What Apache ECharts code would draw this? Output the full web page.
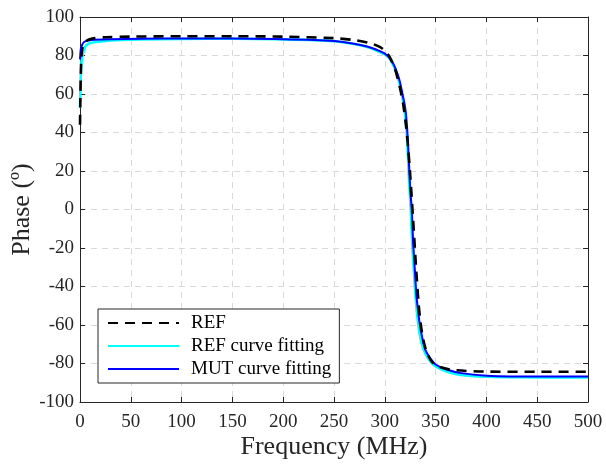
<!DOCTYPE html>
<html>
<head>
<meta charset="utf-8">
<script src="https://cdn.jsdelivr.net/npm/echarts@6/dist/echarts.min.js"></script>
<style>
  html, body { margin: 0; padding: 0; background: #fff; }
  #chart { width: 606px; height: 464px; }
</style>
</head>
<body>
<div id="chart"></div>
<script>
// ── Data ──────────────────────────────────────────────────
const refFreq = [0, 0.3, 0.8, 1.5, 3, 6, 12, 25, 50, 100, 150, 200, 250, 270, 285, 295, 300, 305, 310, 315, 318, 321, 323, 325, 327, 329, 331, 333, 335, 338, 342, 347, 355, 370, 400, 450, 500];
const refPhase = [44, 55, 70, 80, 85.5, 87.5, 88.8, 89.5, 89.8, 90, 90, 89.8, 89, 88, 86.5, 84.5, 82.5, 79, 73, 63, 55, 43, 32, 18, 2, -15, -32, -47, -58, -68, -75, -79.5, -82, -83.5, -84.2, -84.3, -84.3];

const refFitFreq = [0, 0.5, 1, 2, 4, 6, 10, 16, 25, 35, 60, 100, 150, 200, 230, 250, 265, 276, 285, 292, 300, 305, 310, 314, 317, 320, 322, 324, 325.5, 327, 329, 330, 331, 333, 336, 340, 345, 350, 360, 375, 400, 450, 500];
const refFitPhase = [53, 65, 73, 79, 83, 85.3, 86.5, 87, 87.6, 88, 88.4, 88.6, 88.7, 88.4, 88, 87.4, 86.4, 85.3, 84, 82.5, 80.5, 78, 73, 66.5, 59, 49, 36, 14, 0, -18, -35, -43, -50, -60, -69, -75, -79, -81.5, -84, -86, -86.9, -87.2, -87.3];

const mutFreq = [0, 0.5, 1, 2, 4, 8, 15, 30, 60, 100, 150, 200, 230, 250, 265, 276, 285, 292, 300, 305, 310, 314, 317, 320, 322, 324, 325, 326.5, 328, 330, 331, 332, 334, 337, 340, 345, 350, 360, 375, 400, 450, 500];
const mutPhase = [78, 82, 84, 85.5, 87, 87.8, 88.2, 88.5, 88.7, 88.8, 88.8, 88.5, 88.1, 87.5, 86.5, 85.5, 84.3, 83, 81, 78.5, 74, 68, 61, 53, 42, 22, 11, 0, -18, -35, -44, -49, -58, -67, -73, -77.5, -80.5, -83, -85, -86.3, -86.8, -86.8];

const xTicks = { min: 0, max: 500, interval: 50 };
const yTicks = { min: -100, max: 100, interval: 20 };

const legendNames = ['REF', 'REF curve fitting', 'MUT curve fitting'];

// ── Helpers ───────────────────────────────────────────────
const FONT = "'Liberation Serif', 'Times New Roman', serif";
const AXIS_COLOR = '#262626';
const pairs = (xs, ys) => xs.map((x, i) => [x, ys[i]]);

const chart = echarts.init(document.getElementById('chart'), null, { renderer: 'canvas' });

// top / right axes only close the box (MATLAB "box on")
const boxAxis = {
  axisLine: { show: true, onZero: false, lineStyle: { color: AXIS_COLOR, width: 1 } },
  axisTick: { show: true, inside: true, length: 5, lineStyle: { color: AXIS_COLOR } },
  axisLabel: { show: false },
  splitLine: { show: false },
};

chart.setOption({
  backgroundColor: '#ffffff',
  animation: false,
  grid: { left: 80, right: 18, top: 17, bottom: 62, containLabel: false, outerBoundsMode: 'none' },

  legend: {
    orient: 'vertical',
    left: 98,
    top: 309,
    padding: [4, 8, 4, 9],
    itemWidth: 71,
    itemHeight: 14,
    itemGap: 3,
    backgroundColor: '#ffffff',
    borderColor: AXIS_COLOR,
    borderWidth: 1,
    data: legendNames,
    // line sample only, no marker
    itemStyle: { color: 'transparent', borderWidth: 0, opacity: 0 },
    textStyle: { fontFamily: FONT, fontSize: 19, color: '#000', lineHeight: 20, padding: [0, 0, 0, 7] },
  },

  xAxis: [
    {
      type: 'value',
      ...xTicks,
      name: 'Frequency (MHz)',
      nameLocation: 'middle',
      nameGap: 32,
      nameMoveOverlap: false,
      nameTextStyle: { fontFamily: FONT, fontSize: 26, color: AXIS_COLOR },
      axisLine: { show: true, onZero: false, lineStyle: { color: AXIS_COLOR, width: 1 } },
      axisTick: { show: true, inside: true, length: 5, lineStyle: { color: AXIS_COLOR } },
      axisLabel: { fontFamily: FONT, fontSize: 19, color: AXIS_COLOR, margin: 11 },
      splitLine: { show: true, lineStyle: { color: '#d9d9d9', type: [6, 5], width: 1 } },
    },
    { type: 'value', position: 'top', ...xTicks, ...boxAxis },
  ],

  yAxis: [
    {
      type: 'value',
      ...yTicks,
      name: 'Phase (º)',
      nameLocation: 'middle',
      nameGap: 45,
      nameMoveOverlap: false,
      nameTextStyle: { fontFamily: FONT, fontSize: 26, color: AXIS_COLOR },
      axisLine: { show: true, onZero: false, lineStyle: { color: AXIS_COLOR, width: 1 } },
      axisTick: { show: true, inside: true, length: 5, lineStyle: { color: AXIS_COLOR } },
      axisLabel: { fontFamily: FONT, fontSize: 19, color: AXIS_COLOR, margin: 6 },
      splitLine: { show: true, lineStyle: { color: '#d9d9d9', type: [6, 5], width: 1 } },
    },
    { type: 'value', position: 'right', ...yTicks, ...boxAxis },
  ],

  series: [
    {
      name: 'REF',
      type: 'line',
      data: pairs(refFreq, refPhase),
      symbol: 'none',
      smooth: 0.3,
      z: 4,
      lineStyle: { color: '#000000', width: 2.6, type: [10, 7] },
      itemStyle: { color: '#000000' },
    },
    {
      name: 'REF curve fitting',
      type: 'line',
      data: pairs(refFitFreq, refFitPhase),
      symbol: 'none',
      smooth: 0.3,
      z: 2,
      lineStyle: { color: '#00FFFF', width: 2.6 },
      itemStyle: { color: '#00FFFF' },
    },
    {
      name: 'MUT curve fitting',
      type: 'line',
      data: pairs(mutFreq, mutPhase),
      symbol: 'none',
      smooth: 0.3,
      z: 3,
      lineStyle: { color: '#0000FF', width: 2 },
      itemStyle: { color: '#0000FF' },
    },
  ],
});
</script>
</body>
</html>
